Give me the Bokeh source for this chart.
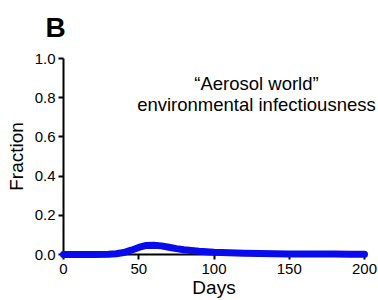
from bokeh.plotting import figure
from bokeh.models import Label, Range1d, FixedTicker, NumeralTickFormatter
from bokeh.embed import file_html
from bokeh.resources import INLINE

days = [0, 10, 20, 30, 35, 40, 45, 50, 55, 60, 65, 70, 75, 80, 90, 100,
        110, 120, 130, 140, 150, 160, 170, 180, 190, 200]
fraction = [0.0, 0.0, 0.0, 0.001, 0.004, 0.010, 0.022, 0.036, 0.046, 0.047,
            0.044, 0.037, 0.030, 0.024, 0.017, 0.012, 0.009, 0.007, 0.005,
            0.004, 0.003, 0.003, 0.002, 0.002, 0.001, 0.001]
x_ticks = [0, 50, 100, 150, 200]
y_ticks = [0.0, 0.2, 0.4, 0.6, 0.8, 1.0]
panel = "B"
note_1 = "\u201cAerosol world\u201d"
note_2 = "environmental infectiousness"

FONT = "Liberation Sans"

# frame covers the whole canvas; axes are drawn at x=0 and y=0
p = figure(width=378, height=300, output_backend="svg", toolbar_location=None,
           x_range=Range1d(-41.86, 209.3), y_range=Range1d(-0.2347, 1.296),
           min_border_left=0, min_border_right=0, min_border_top=0,
           min_border_bottom=0)
p.title.visible = False
p.outline_line_color = None
p.grid.visible = False
p.background_fill_color = "white"
p.border_fill_color = "white"

p.line(days, fraction, line_width=7, line_color="#0a0aee", line_cap="round",
       line_join="round", level="overlay")

for ax in (p.xaxis[0], p.yaxis[0]):
    ax.axis_line_width = 2
    ax.axis_line_color = "black"
    ax.major_tick_line_width = 2
    ax.major_tick_line_color = "black"
    ax.major_tick_out = 5
    ax.major_tick_in = 0
    ax.minor_tick_line_color = None
    ax.major_label_text_font = FONT
    ax.major_label_text_font_size = "15px"
    ax.major_label_text_color = "black"
    ax.axis_label_text_font = FONT
    ax.axis_label_text_font_size = "19px"
    ax.axis_label_text_font_style = "normal"
    ax.axis_label_text_color = "black"
    ax.fixed_location = 0

p.xaxis.ticker = FixedTicker(ticks=x_ticks)
p.yaxis.ticker = FixedTicker(ticks=y_ticks)
p.yaxis.formatter = NumeralTickFormatter(format="0.0")
p.xaxis.bounds = (0, 200)
p.yaxis.bounds = (0, 1)
p.xaxis.axis_label = "Days"
p.yaxis.axis_label = "Fraction"
p.xaxis.major_label_standoff = 4
p.yaxis.major_label_standoff = 3
p.xaxis.axis_label_standoff = 0
p.yaxis.axis_label_standoff = 5

p.add_layout(Label(x=0, y=1.0, x_offset=-18, y_offset=16, text=panel,
                   text_font=FONT, text_font_size="28px",
                   text_font_style="bold", text_baseline="bottom",
                   text_align="left", text_color="black"))
p.add_layout(Label(x=128.2, y=0.872, text=note_1, text_font=FONT,
                   text_font_size="18.5px", text_align="center",
                   text_baseline="middle", text_color="black"))
p.add_layout(Label(x=128.2, y=0.766, text=note_2, text_font=FONT,
                   text_font_size="18.5px", text_align="center",
                   text_baseline="middle", text_color="black"))

open("out.html", "w").write(file_html(p, INLINE))
